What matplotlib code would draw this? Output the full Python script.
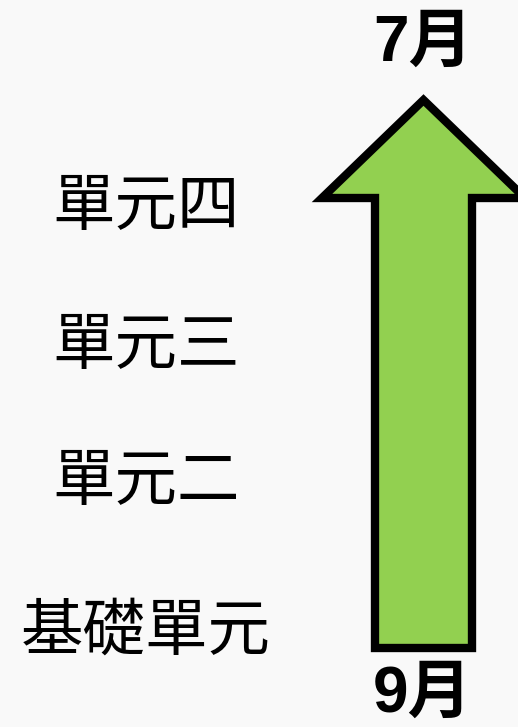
import matplotlib.pyplot as plt
from matplotlib.patches import Polygon

# labels on the left, bottom to top
units = ["基礎單元", "單元二", "單元三", "單元四"]
unit_y = [632, 482, 346, 207]
start_month = "9月"
end_month = "7月"

# arrow geometry (pixel units)
arrow_cx = 423.5
tip_y, head_y, bottom_y = 100, 198, 648
head_half, shaft_half = 101.5, 48.5

plt.rcParams['font.family'] = ['Liberation Sans', 'Noto Sans CJK TC', 'DejaVu Sans']

fig = plt.figure(figsize=(5.18, 7.27), dpi=100, facecolor="#f9f9f9")
ax = fig.add_axes([0, 0, 1, 1])
ax.set_facecolor("#f9f9f9")
ax.set_xlim(0, 518)
ax.set_ylim(727, 0)
ax.axis("off")

pts = [
    (arrow_cx, tip_y),
    (arrow_cx + head_half, head_y),
    (arrow_cx + shaft_half, head_y),
    (arrow_cx + shaft_half, bottom_y),
    (arrow_cx - shaft_half, bottom_y),
    (arrow_cx - shaft_half, head_y),
    (arrow_cx - head_half, head_y),
]
ax.add_patch(Polygon(pts, closed=True, facecolor="#92d050", edgecolor="black",
                     linewidth=6, joinstyle="miter"))

for lab, y in zip(units, unit_y):
    ax.text(146, y, lab, fontsize=45, ha="center", va="center",
            family=['Noto Sans CJK TC', 'DejaVu Sans'], weight="medium")

ax.text(arrow_cx - 1, 44, end_month, fontsize=46, ha="center", va="center", weight="bold")
ax.text(arrow_cx - 1, 695, start_month, fontsize=46, ha="center", va="center", weight="bold")

fig.savefig("out.png", dpi=100, facecolor=fig.get_facecolor())
